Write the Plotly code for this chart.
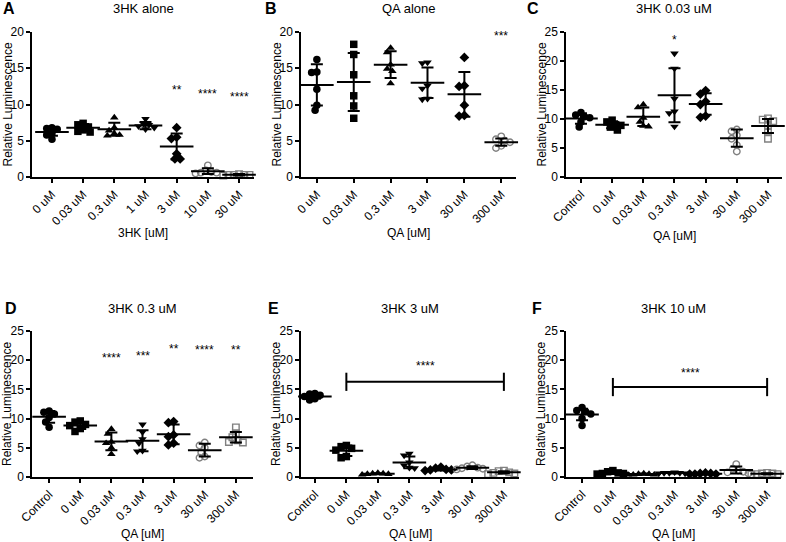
import plotly.graph_objects as go

FONT = "Arial, Liberation Sans, sans-serif"
GRAY = "#808080"

# ---------------- data ----------------
# A: 3HK alone
a_cats = ["0 uM", "0.03 uM", "0.3 uM", "1 uM", "3 uM", "10 uM", "30 uM"]
a_vals = [
    [6.8, 6.7, 6.6, 6.0, 5.8, 5.2],
    [7.4, 7.2, 6.9, 6.5, 6.3, 6.2],
    [8.2, 6.8, 6.4, 6.0, 5.8, 5.7],
    [8.0, 7.3, 7.2, 7.0, 6.8, 6.6],
    [6.8, 5.5, 5.3, 3.2, 2.5, 2.5],
    [1.6, 0.9, 0.7, 0.6, 0.6, 0.5],
    [0.4, 0.3, 0.3, 0.3, 0.3, 0.2],
]
a_mean = [6.2, 6.8, 6.6, 7.1, 4.2, 0.8, 0.3]
a_sd = [0.5, 0.5, 0.9, 0.5, 1.8, 0.4, 0.1]
a_stars = ["", "", "", "", "**", "****", "****"]
a_star_y = [0, 0, 0, 0, 12.4, 11.9, 11.4]

# B: QA alone
b_cats = ["0 uM", "0.03 uM", "0.3 uM", "3 uM", "30 uM", "300 uM"]
b_vals = [
    [16.2, 14.5, 14.4, 12.1, 9.9, 9.2],
    [18.3, 16.9, 14.1, 11.2, 9.8, 8.1],
    [17.8, 17.2, 15.5, 14.9, 14.6, 12.9],
    [15.8, 15.7, 12.6, 12.2, 10.8, 10.7],
    [16.5, 12.6, 12.5, 9.9, 8.5, 8.4],
    [5.6, 5.2, 5.0, 4.8, 4.3, 4.0],
]
b_mean = [12.7, 13.1, 15.5, 13.0, 11.4, 4.8]
b_sd = [2.85, 4.0, 1.85, 2.1, 3.1, 0.5]
b_stars = ["", "", "", "", "", "***"]
b_star_y = [0, 0, 0, 0, 0, 19.8]

qa_cats = ["Control", "0 uM", "0.03 uM", "0.3 uM", "3 uM", "30 uM", "300 uM"]

# C: 3HK 0.03 uM
c_vals = [
    [11.1, 10.7, 10.4, 10.2, 9.5, 8.6],
    [9.8, 9.5, 9.0, 8.9, 8.6, 8.1],
    [12.5, 12.0, 10.2, 9.5, 8.8, 8.7],
    [21.3, 18.7, 13.5, 11.3, 11.0, 8.7],
    [14.9, 14.3, 13.0, 12.5, 10.5, 10.3],
    [8.2, 7.9, 7.2, 6.6, 5.5, 4.4],
    [10.1, 9.9, 9.6, 8.8, 7.8, 6.6],
]
c_mean = [10.1, 9.0, 10.4, 14.1, 12.6, 6.7, 8.8]
c_sd = [0.9, 0.6, 1.6, 4.65, 1.85, 1.5, 1.2]
c_stars = ["", "", "", "*", "", "", ""]
c_star_y = [0, 0, 0, 24.2, 0, 0, 0]

# D: 3HK 0.3 uM
d_vals = [
    [11.3, 11.1, 10.8, 10.2, 9.4, 8.5],
    [9.6, 9.4, 9.0, 8.8, 8.3, 7.8],
    [8.2, 7.4, 6.0, 5.8, 5.0, 3.9],
    [9.0, 7.7, 6.5, 5.8, 4.5, 4.4],
    [9.5, 9.3, 7.2, 6.9, 5.8, 5.5],
    [5.9, 5.4, 5.0, 4.2, 3.5, 3.3],
    [8.5, 7.5, 6.8, 6.3, 6.0, 5.9],
]
d_mean = [10.3, 8.8, 6.1, 6.2, 7.3, 4.6, 6.8]
d_sd = [1.0, 0.6, 1.5, 1.8, 1.7, 1.1, 0.9]
d_stars = ["", "", "****", "***", "**", "****", "**"]
d_star_y = [0, 0, 20.9, 21.3, 22.4, 22.2, 22.2]

# E: 3HK 3 uM
e_vals = [
    [14.3, 14.2, 14.0, 13.8, 13.4, 13.2],
    [5.4, 5.2, 4.9, 4.6, 3.5, 3.3],
    [0.7, 0.6, 0.6, 0.5, 0.5, 0.4],
    [4.0, 3.7, 2.5, 2.0, 1.6, 1.5],
    [1.7, 1.5, 1.3, 1.2, 1.2, 1.1],
    [2.0, 1.8, 1.6, 1.5, 1.4, 1.3],
    [1.1, 1.0, 0.8, 0.7, 0.6, 0.5],
]
e_mean = [13.8, 4.5, 0.55, 2.5, 1.3, 1.6, 0.8]
e_sd = [0.4, 0.9, 0.1, 1.0, 0.2, 0.25, 0.2]
e_bracket_y = 16.3
e_bracket_star_y = 19.6

# F: 3HK 10 uM
f_vals = [
    [11.9, 11.4, 11.2, 10.8, 10.0, 8.8],
    [1.1, 0.9, 0.7, 0.6, 0.6, 0.5],
    [0.6, 0.5, 0.5, 0.4, 0.4, 0.4],
    [0.8, 0.7, 0.7, 0.7, 0.6, 0.6],
    [0.7, 0.6, 0.6, 0.5, 0.5, 0.5],
    [2.2, 1.4, 1.1, 0.9, 0.8, 0.6],
    [0.7, 0.6, 0.6, 0.5, 0.5, 0.4],
]
f_mean = [10.7, 0.7, 0.5, 0.7, 0.55, 1.2, 0.55]
f_sd = [1.0, 0.2, 0.1, 0.1, 0.1, 0.6, 0.1]
f_bracket_y = 15.4
f_bracket_star_y = 18.4

SYMS = ["circle", "square", "triangle-up", "triangle-down", "diamond",
        "circle-open", "square-open"]

W, H = 786, 542

panels = [
    dict(letter="A", title="3HK alone", xtitle="3HK [uM]", cats=a_cats, vals=a_vals,
         mean=a_mean, sd=a_sd, stars=a_stars, star_y=a_star_y, ymax=20,
         px=(32, 254), py=(32, 177), xr=(-0.64, 6.48), lx=1, ly=9, ty=9, xty=233),
    dict(letter="B", title="QA alone", xtitle="QA [uM]", cats=b_cats, vals=b_vals,
         mean=b_mean, sd=b_sd, stars=b_stars, star_y=b_star_y, ymax=20,
         px=(301, 516), py=(32, 177), xr=(-0.43, 5.4), lx=263, ly=9, ty=9, xty=233),
    dict(letter="C", title="3HK 0.03 uM", xtitle="QA [uM]", cats=qa_cats, vals=c_vals,
         mean=c_mean, sd=c_sd, stars=c_stars, star_y=c_star_y, ymax=25,
         px=(566, 782), py=(32, 177), xr=(-0.48, 6.45), lx=525, ly=9, ty=9, xty=236),
    dict(letter="D", title="3HK 0.3 uM", xtitle="QA [uM]", cats=qa_cats, vals=d_vals,
         mean=d_mean, sd=d_sd, stars=d_stars, star_y=d_star_y, ymax=25,
         px=(32, 253), py=(331, 477), xr=(-0.55, 6.55), lx=3, ly=308, ty=308, xty=534),
    dict(letter="E", title="3HK 3 uM", xtitle="QA [uM]", cats=qa_cats, vals=e_vals,
         mean=e_mean, sd=e_sd, stars=None, bracket=(e_bracket_y, e_bracket_star_y), ymax=25,
         px=(301, 519), py=(331, 477), xr=(-0.44, 6.48), lx=266, ly=308, ty=308, xty=534),
    dict(letter="F", title="3HK 10 uM", xtitle="QA [uM]", cats=qa_cats, vals=f_vals,
         mean=f_mean, sd=f_sd, stars=None, bracket=(f_bracket_y, f_bracket_star_y), ymax=25,
         px=(566, 781), py=(331, 477), xr=(-0.52, 6.45), lx=530, ly=308, ty=308, xty=534),
]


def swarm(vals, px_unit, px_cat, diam=7.0):
    """Spread points sideways so markers don't overlap too much (Prism-like)."""
    placed = []
    xs = [0.0] * len(vals)
    order = sorted(range(len(vals)), key=lambda i: -vals[i])
    steps = [0]
    for k in range(1, 16):
        steps += [-k * 0.25, k * 0.25]
    for i in order:
        y = vals[i] * px_unit
        for s in steps:
            x = s * diam
            if all((x - a) ** 2 + (y - b) ** 2 >= (diam * 0.75) ** 2 for a, b in placed):
                break
        placed.append((x, y))
        xs[i] = x / px_cat
    return xs


fig = go.Figure()
layout = dict(width=W, height=H, margin=dict(l=0, r=0, t=0, b=0, pad=0),
              paper_bgcolor="white", plot_bgcolor="white", showlegend=False,
              font=dict(family=FONT, color="black"))
annotations = []

for k, p in enumerate(panels, start=1):
    xa = "x" if k == 1 else f"x{k}"
    ya = "y" if k == 1 else f"y{k}"
    n = len(p["cats"])
    px_cat = (p["px"][1] - p["px"][0]) / (p["xr"][1] - p["xr"][0])
    px_unit = (p["py"][1] - p["py"][0]) / p["ymax"]

    for j, vals in enumerate(p["vals"]):
        sym = SYMS[j]
        is_open = sym.endswith("open")
        offs = swarm(vals, px_unit, px_cat)
        fig.add_trace(go.Scatter(
            x=[j + o for o in offs], y=vals, mode="markers", xaxis=xa, yaxis=ya,
            cliponaxis=False, hoverinfo="skip",
            marker=dict(symbol=sym, size=7.5 if not is_open else 6.5,
                        color=GRAY if is_open else "black",
                        line=dict(color=GRAY if is_open else "black",
                                  width=1.4 if is_open else 0))))

    # mean line and SD error bars
    fig.add_trace(go.Scatter(
        x=list(range(n)), y=p["mean"], mode="markers", xaxis=xa, yaxis=ya,
        cliponaxis=False, hoverinfo="skip",
        marker=dict(symbol="line-ew", size=24, color="black",
                    line=dict(color="black", width=2)),
        error_y=dict(type="data", array=p["sd"], width=6, thickness=2, color="black")))

    if p.get("stars"):
        for j, (s, sy) in enumerate(zip(p["stars"], p["star_y"])):
            if s:
                annotations.append(dict(x=j, y=sy, xref=xa, yref=ya, text=s,
                                        showarrow=False, yshift=-3,
                                        xanchor="center", yanchor="middle",
                                        font=dict(size=12, family=FONT)))
    if p.get("bracket"):
        by, sy = p["bracket"]
        fig.add_trace(go.Scatter(
            x=[1, n - 1], y=[by, by], mode="lines+markers", xaxis=xa, yaxis=ya,
            cliponaxis=False, hoverinfo="skip",
            line=dict(color="black", width=2),
            marker=dict(symbol="line-ns", size=13, color="black",
                        line=dict(color="black", width=2))))
        annotations.append(dict(x=(1 + n - 1) / 2, y=sy, xref=xa, yref=ya, text="****",
                                showarrow=False, yshift=-3,
                                xanchor="center", yanchor="middle",
                                font=dict(size=12, family=FONT)))

    xdom = [p["px"][0] / W, p["px"][1] / W]
    ydom = [1 - p["py"][1] / H, 1 - p["py"][0] / H]
    axis_common = dict(showgrid=False, zeroline=False, showline=True, linecolor="black",
                       linewidth=1.5, ticks="outside", ticklen=4, tickwidth=1.5,
                       tickcolor="black", automargin=False,
                       tickfont=dict(size=12, family=FONT, color="black"))
    layout["xaxis" if k == 1 else f"xaxis{k}"] = dict(
        axis_common, domain=xdom, range=list(p["xr"]), anchor=ya,
        tickmode="array", tickvals=list(range(n)), ticktext=p["cats"], tickangle=-45)
    layout["yaxis" if k == 1 else f"yaxis{k}"] = dict(
        axis_common, domain=ydom, range=[0, p["ymax"]], anchor=xa,
        tickmode="linear", tick0=0, dtick=5)

    cx = (p["px"][0] + p["px"][1]) / 2 / W
    # panel letter
    annotations.append(dict(x=p["lx"] / W, y=1 - p["ly"] / H, xref="paper", yref="paper",
                            text=f"<b>{p['letter']}</b>", showarrow=False,
                            xanchor="left", yanchor="middle",
                            font=dict(size=16, family=FONT)))
    # panel title
    annotations.append(dict(x=cx, y=1 - p["ty"] / H, xref="paper", yref="paper",
                            text=p["title"], showarrow=False,
                            xanchor="center", yanchor="middle",
                            font=dict(size=13, family=FONT)))
    # x title
    annotations.append(dict(x=cx, y=1 - p["xty"] / H, xref="paper", yref="paper",
                            text=p["xtitle"], showarrow=False,
                            xanchor="center", yanchor="middle",
                            font=dict(size=12, family=FONT)))
    # y title
    annotations.append(dict(x=(p["px"][0] - 25) / W, y=(ydom[0] + ydom[1]) / 2,
                            xref="paper", yref="paper", text="Relative Luminescence",
                            textangle=-90, showarrow=False,
                            xanchor="center", yanchor="middle",
                            font=dict(size=12, family=FONT)))

layout["annotations"] = annotations
fig.update_layout(**layout)
# the page's default body margin would push the figure 8px right and down
fig.write_html("out.html", config={"displayModeBar": False},
               post_script="document.body.style.margin='0';")
